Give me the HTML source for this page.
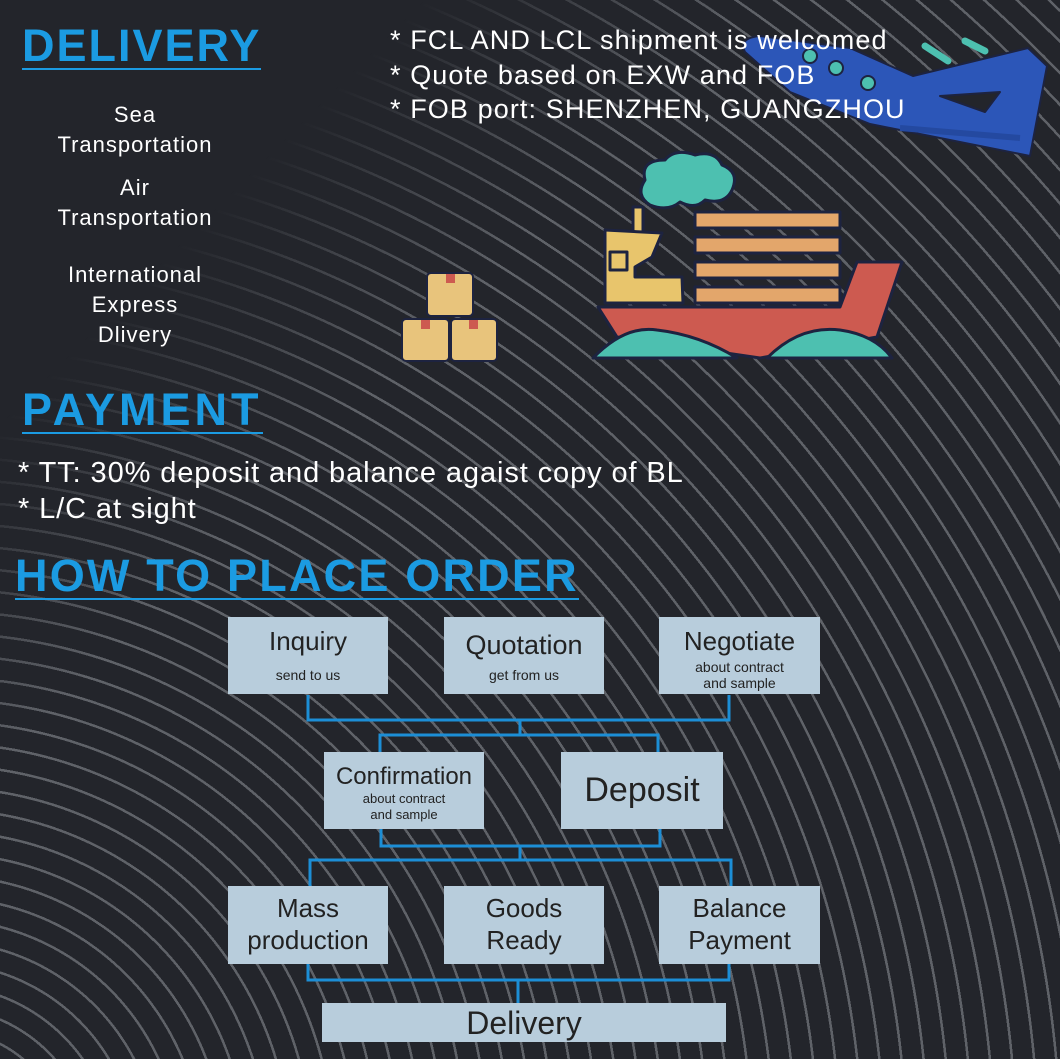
<!DOCTYPE html>
<html><head><meta charset="utf-8"><style>
html,body{margin:0;padding:0}
body{width:1060px;height:1059px;background:#23252b;position:relative;overflow:hidden;font-family:"Liberation Sans",sans-serif}
#arcs{position:absolute;left:0;top:0;width:1060px;height:1059px;
background:repeating-radial-gradient(circle at -60px 1160px, transparent 0 19.5px, #5f6268 19.5px 22px);
-webkit-mask-image:linear-gradient(135deg, transparent 0%, transparent 20%, #000 36%, #000 100%);
mask-image:linear-gradient(135deg, transparent 0%, transparent 20%, #000 36%, #000 100%);}
.t{position:absolute;white-space:nowrap}
.h{color:#1b9be2;font-weight:bold;font-size:45px;border-bottom:2px solid #1b9be2;line-height:44px;letter-spacing:2px}
.w{color:#fff}
.c{text-align:center;width:240px;left:15px;font-size:22px;line-height:30px;color:#fff;letter-spacing:1px}
.box{position:absolute;background:#b8cddc;color:#222;text-align:center;font-family:"Liberation Sans",sans-serif}
</style></head><body>
<div id="arcs"></div>
<svg style="position:absolute;left:0;top:0" width="1060" height="1059">
<g stroke="#1d2340" stroke-width="2" stroke-linejoin="round">
<path d="M745,52 Q738,38 760,36 L850,48 L913,76 L1028,48 L1047,66 L1030,156 L870,124 L790,92 Z" fill="#2c56b8"/>
<path d="M940,96 L985,112 L1000,92 Z" fill="#23252b"/>
</g>
<path d="M900,128 L1020,138" stroke="#2449a0" stroke-width="6"/>
<g stroke="#4dc0b0" stroke-width="7" stroke-linecap="round"><line x1="925" y1="46" x2="948" y2="61"/><line x1="965" y1="41" x2="985" y2="51"/></g>
<g fill="#4dc0b0" stroke="#1d2340" stroke-width="2"><circle cx="810" cy="56" r="7"/><circle cx="836" cy="68" r="7"/><circle cx="868" cy="83" r="7"/></g>
<g stroke="#1d2340" stroke-width="3" stroke-linejoin="round">
<path d="M650,205 Q635,195 645,180 Q640,160 665,160 Q675,148 695,155 Q715,150 722,165 Q740,172 732,190 Q725,205 705,200 Q695,210 680,202 Q668,212 650,205 Z" fill="#4dc0b0"/>
<rect x="633" y="207" width="10" height="25" fill="#e8c56c"/>
<path d="M605,230 L662,233 L652,257 L635,267 L635,277 L682,277 L683,303 L605,303 Z" fill="#e8c56c"/>
<rect x="610" y="252" width="17" height="18" fill="#e8c56c"/>
<rect x="695" y="212" width="145" height="16" fill="#e3a66b"/>
<rect x="695" y="237" width="145" height="16" fill="#e3a66b"/>
<rect x="695" y="262" width="145" height="16" fill="#e3a66b"/>
<rect x="695" y="287" width="145" height="16" fill="#e3a66b"/>
<path d="M598,307 L840,307 L857,262 L902,262 L877,337 L760,358 L617,337 Z" fill="#cd5a50"/>
<path d="M593,358 Q625,325 657,330 Q700,335 737,358 Z" fill="#4dc0b0"/>
<path d="M767,358 Q800,325 840,330 Q875,335 892,358 Z" fill="#4dc0b0"/>
</g>
<g stroke="#1d2340" stroke-width="2" fill="#e8c47c">
<rect x="427" y="273" width="46" height="43" rx="4"/>
<rect x="402" y="319" width="47" height="42" rx="4"/>
<rect x="451" y="319" width="46" height="42" rx="4"/>
</g>
<g fill="#cd5a50"><rect x="446" y="274" width="9" height="9"/><rect x="421" y="320" width="9" height="9"/><rect x="469" y="320" width="9" height="9"/></g>
<g stroke="#1c8ed6" stroke-width="3" fill="none">
<path d="M308,695 V720 H729 V695"/><path d="M520,720 V735"/><path d="M380,752 V735 H658 V752"/>
<path d="M381,829 V846 H660 V829"/><path d="M520,846 V860"/><path d="M310,886 V860 H731 V886"/>
<path d="M308,964 V980 H729 V964"/><path d="M518,980 V1003"/>
</g>
</svg>
<div class="t h" style="left:22px;top:24px">DELIVERY</div>
<div class="t c" style="top:100px">Sea<br>Transportation</div>
<div class="t c" style="top:173px">Air<br>Transportation</div>
<div class="t c" style="top:260px">International<br>Express<br>Dlivery</div>
<div class="t w" style="left:390px;top:23px;font-size:27px;line-height:34.5px;letter-spacing:1.1px">* FCL AND LCL shipment is welcomed<br>* Quote based on EXW and FOB<br>* FOB port: SHENZHEN, GUANGZHOU</div>
<div class="t h" style="left:22px;top:388px;letter-spacing:4px">PAYMENT</div>
<div class="t w" style="left:18px;top:455px;font-size:29px;line-height:36px;letter-spacing:0.9px">* TT: 30% deposit and balance agaist copy of BL<br>* L/C at sight</div>
<div class="t h" style="left:15px;top:554px;font-size:45px;letter-spacing:2.2px">HOW TO PLACE ORDER</div>

<div class="box" style="left:228px;top:617px;width:160px;height:77px"><div style="font-size:26px;margin-top:9px">Inquiry</div><div style="font-size:14px;margin-top:10px">send to us</div></div>
<div class="box" style="left:444px;top:617px;width:160px;height:77px"><div style="font-size:27px;margin-top:13px">Quotation</div><div style="font-size:14px;margin-top:6px">get from us</div></div>
<div class="box" style="left:659px;top:617px;width:161px;height:77px"><div style="font-size:26px;margin-top:9px">Negotiate</div><div style="font-size:14px;line-height:16px;margin-top:2px">about contract<br>and sample</div></div>
<div class="box" style="left:324px;top:752px;width:160px;height:77px"><div style="font-size:24px;margin-top:11px;white-space:nowrap">Confirmation</div><div style="font-size:13px;line-height:16px">about contract<br>and sample</div></div>
<div class="box" style="left:561px;top:752px;width:162px;height:77px"><div style="font-size:34px;margin-top:19px">Deposit</div></div>
<div class="box" style="left:228px;top:886px;width:160px;height:78px;font-size:26px;line-height:32px"><div style="margin-top:6px">Mass<br>production</div></div>
<div class="box" style="left:444px;top:886px;width:160px;height:78px;font-size:26px;line-height:32px"><div style="margin-top:6px">Goods<br>Ready</div></div>
<div class="box" style="left:659px;top:886px;width:161px;height:78px;font-size:26px;line-height:32px"><div style="margin-top:6px">Balance<br>Payment</div></div>
<div class="box" style="left:322px;top:1003px;width:404px;height:39px;font-size:32px;line-height:40px">Delivery</div>
</body></html>
